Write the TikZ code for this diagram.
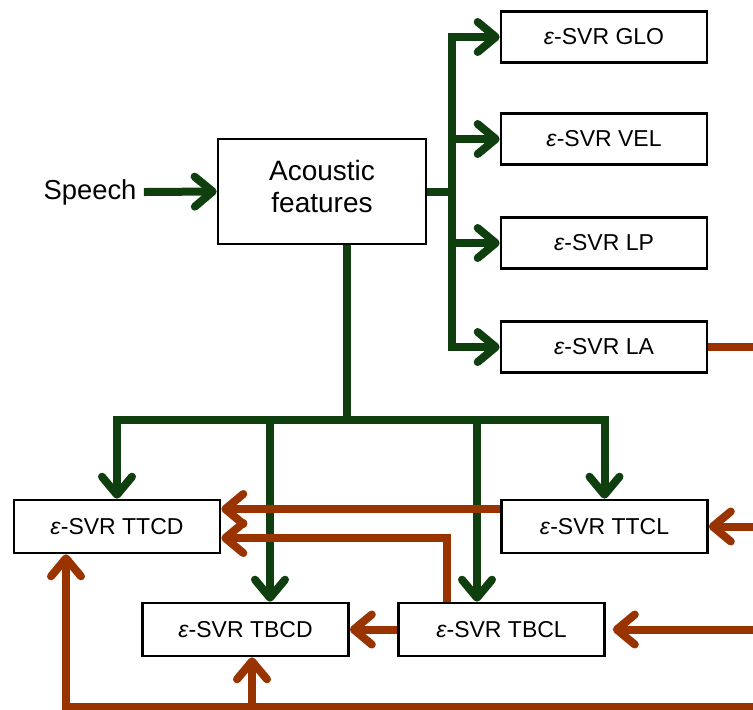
\documentclass[tikz,border=0pt]{standalone}
\usepackage{fontspec}
\setmainfont{Liberation Sans}
\usetikzlibrary{arrows.meta,calc}
\definecolor{featgreen}{HTML}{0F3F0F}
\definecolor{predbrown}{HTML}{993300}
\newcommand{\eps}{\textit{ε}}

\begin{document}
\begin{tikzpicture}[
    x=0.5pt, y=-0.5pt,
    box/.style={draw, line width=1.3pt, fill=white, minimum width=103pt,
                minimum height=25.5pt, inner sep=0pt, align=center,
                font=\fontsize{11.5}{13}\selectfont},
    bigbox/.style={box, minimum width=104pt, minimum height=52.5pt,
                   font=\fontsize{14}{16}\selectfont},
    gline/.style={draw=featgreen, line width=4pt},
    garrow/.style={gline, -{Straight Barb[length=9pt,width=15pt,round]}},
    bline/.style={draw=predbrown, line width=4pt},
    barrow/.style={bline, -{Straight Barb[length=9pt,width=15pt,round]}}
  ]
  \useasboundingbox (0,0) rectangle (753,709);
  % Entrada
  \node[font=\fontsize{13.7}{16}\selectfont, inner sep=2pt] (speech) at (90,192) {Speech};
  \node[bigbox, text depth=5pt] (feat) at (322,191.5) {Acoustic\\features};
  % Regressors superiors
  \node[box] (glo) at (604,37) {\eps-SVR GLO};
  \node[box] (vel) at (604,139) {\eps-SVR VEL};
  \node[box] (lp) at (604,243) {\eps-SVR LP};
  \node[box] (la) at (604,347) {\eps-SVR LA};
  % Regressors inferiors
  \node[box, minimum height=26.5pt] (ttcd) at (117,526.5) {\eps-SVR TTCD};
  \node[box, minimum height=26.5pt] (ttcl) at (604.5,526.5) {\eps-SVR TTCL};
  \node[box, minimum height=26.5pt] (tbcd) at (245.5,629.5) {\eps-SVR TBCD};
  \node[box, minimum height=26.5pt] (tbcl) at (501.5,629.5) {\eps-SVR TBCL};
  % Punts auxiliars
  \coordinate (hub) at (452,192);
  \coordinate (split) at (347,420);
  \coordinate (edge) at (753,0);
  \coordinate (low) at (753,707);
  \coordinate (tbcdtop) at ($(tbcd.north)+(24.5,0)$);
  \coordinate (tbcltop) at ($(tbcl.north)+(-24.5,0)$);
  \coordinate (ttcdleg) at ($(ttcd.south)+(-51,0)$);
  \coordinate (tbcdleg) at ($(tbcd.south)+(6.5,0)$);
  \coordinate (ttclout) at ($(ttcl.west)+(0,-17.5)$);
  \coordinate (tbclup) at ($(tbcl.north)+(-54.5,0)$);
  \coordinate (ttcdin) at ($(ttcd.east)+(0,11.5)$);
  % Fletxes verdes
  \draw[garrow] ($(speech.east)+(3,0)$) -- (feat.west);
  \draw[gline] (feat.east |- hub) -- (hub);
  \foreach \n in {glo,vel,lp,la}
    \draw[garrow] (hub) |- (\n.west);
  \draw[gline] (split |- feat.south) -- (split);
  \draw[garrow] (split) -| (ttcd.north);
  \draw[garrow] (split) -| (ttcl.north);
  \draw[garrow] (split) -| (tbcdtop);
  \draw[garrow] (split) -| (tbcltop);
  % Fletxes marrons
  \draw[bline] (la.east) -- (la.east -| edge);
  \draw[barrow] (edge |- ttcl.east) -- (ttcl.east);
  \draw[barrow, shorten >=3.5pt] (edge |- tbcl.east) -- (tbcl.east);
  \draw[barrow] (low) -| (ttcdleg);
  \draw[barrow] (tbcdleg |- low) -- (tbcdleg);
  \draw[barrow] (ttclout) -- (ttclout -| ttcd.east);
  \draw[barrow] (tbclup) |- (ttcdin);
  \draw[barrow] (tbcl.west) -- (tbcd.east);
\end{tikzpicture}
\end{document}
